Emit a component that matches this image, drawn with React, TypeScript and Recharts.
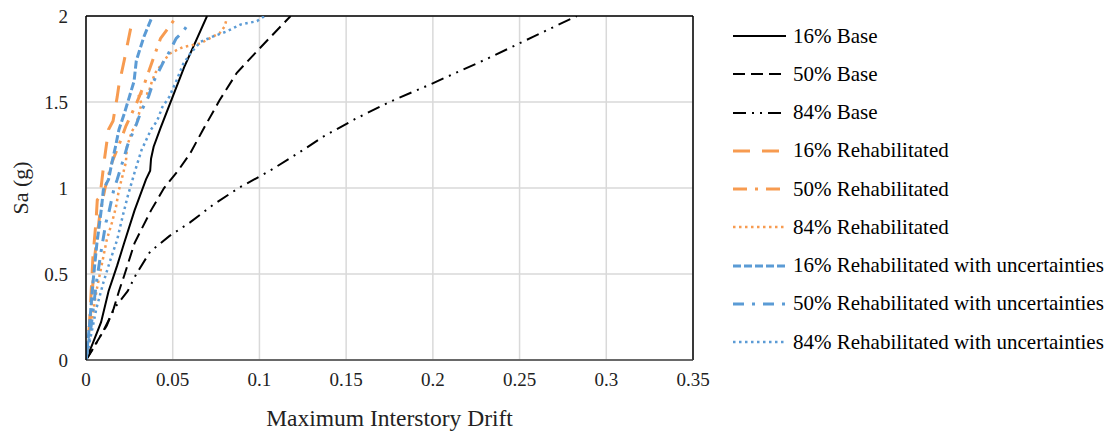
import { LineChart, Line, XAxis, YAxis, CartesianGrid, ReferenceLine } from 'recharts'

// [drift, Sa] pairs
const base16: [number, number][] = [
  [0, 0], [0.004, 0.1], [0.0087, 0.22], [0.013, 0.4], [0.018, 0.55], [0.022, 0.68], [0.028, 0.87],
  [0.0346, 1.05], [0.037, 1.1], [0.0375, 1.17], [0.039, 1.24], [0.043, 1.35], [0.0565, 1.7], [0.0698, 2.0],
]
const base50: [number, number][] = [
  [0, 0], [0.006, 0.1], [0.012, 0.2], [0.016, 0.3], [0.019, 0.4], [0.022, 0.49], [0.028, 0.68],
  [0.0375, 0.87], [0.045, 1.0], [0.053, 1.1], [0.06, 1.2], [0.067, 1.33], [0.077, 1.51], [0.087, 1.67],
  [0.099, 1.8], [0.118, 2.0],
]
const base84: [number, number][] = [
  [0, 0], [0.005, 0.08], [0.01, 0.17], [0.017, 0.31], [0.024, 0.4], [0.029, 0.5], [0.037, 0.63],
  [0.048, 0.72], [0.06, 0.8], [0.073, 0.9], [0.088, 1.0], [0.106, 1.1], [0.125, 1.22], [0.137, 1.3],
  [0.155, 1.4], [0.175, 1.5], [0.198, 1.6], [0.231, 1.75], [0.258, 1.88], [0.283, 2.0],
]
const rehab16: [number, number][] = [
  [0, 0], [0.002, 0.2], [0.003, 0.4], [0.004, 0.6], [0.0058, 0.81], [0.0065, 0.93], [0.008, 0.95],
  [0.009, 1.03], [0.0104, 1.15], [0.013, 1.34], [0.0156, 1.39], [0.018, 1.53], [0.019, 1.6],
  [0.022, 1.74], [0.026, 1.94], [0.027, 1.97],
]
const rehab50: [number, number][] = [
  [0, 0], [0.003, 0.3], [0.005, 0.6], [0.008, 0.85], [0.011, 1.0], [0.015, 1.15], [0.019, 1.25],
  [0.023, 1.36], [0.029, 1.49], [0.0335, 1.6], [0.038, 1.73], [0.043, 1.87], [0.051, 1.98],
]
const rehab84: [number, number][] = [
  [0, 0], [0.003, 0.2], [0.006, 0.4], [0.009, 0.55], [0.012, 0.7], [0.015, 0.8], [0.0173, 0.89],
  [0.019, 0.99], [0.0208, 1.06], [0.023, 1.15], [0.0236, 1.24], [0.0265, 1.33], [0.029, 1.37],
  [0.032, 1.49], [0.03, 1.55], [0.036, 1.55], [0.038, 1.62], [0.04, 1.67], [0.045, 1.74], [0.048, 1.78],
  [0.056, 1.82], [0.066, 1.84], [0.073, 1.88], [0.077, 1.9], [0.08, 1.94], [0.081, 1.98],
]
const unc16: [number, number][] = [
  [0, 0], [0.002, 0.2], [0.004, 0.45], [0.0063, 0.68], [0.0075, 0.77], [0.009, 0.89], [0.01, 0.99],
  [0.013, 1.05], [0.015, 1.15], [0.017, 1.24], [0.019, 1.34], [0.022, 1.43], [0.025, 1.53],
  [0.0277, 1.62], [0.029, 1.74], [0.0334, 1.88], [0.0375, 1.98],
]
const unc50: [number, number][] = [
  [0, 0], [0.003, 0.2], [0.006, 0.45], [0.009, 0.65], [0.0115, 0.8], [0.013, 0.85], [0.016, 0.99],
  [0.018, 1.05], [0.022, 1.18], [0.024, 1.25], [0.029, 1.37], [0.032, 1.45], [0.036, 1.53],
  [0.039, 1.62], [0.045, 1.74], [0.048, 1.79], [0.052, 1.87], [0.056, 1.91], [0.06, 1.97],
]
const unc84: [number, number][] = [
  [0, 0], [0.003, 0.15], [0.006, 0.3], [0.01, 0.45], [0.014, 0.58], [0.018, 0.7], [0.021, 0.83],
  [0.024, 0.95], [0.028, 1.09], [0.032, 1.22], [0.0375, 1.34], [0.041, 1.39], [0.044, 1.47],
  [0.048, 1.53], [0.052, 1.62], [0.056, 1.72], [0.06, 1.78], [0.066, 1.85], [0.073, 1.88],
  [0.081, 1.91], [0.089, 1.95], [0.0986, 1.97], [0.103, 2.0],
]

const xTicks = [0, 0.05, 0.1, 0.15, 0.2, 0.25, 0.3, 0.35]
const yTicks = [0, 0.5, 1, 1.5, 2]

const BLACK = '#000000'
const ORANGE = '#F79B50'
const BLUE = '#5B9BD5'
const FONT = "'Liberation Serif', 'DejaVu Serif', serif"

const series = [
  { name: '16% Base', pts: base16, color: BLACK, width: 2, dash: undefined },
  { name: '50% Base', pts: base50, color: BLACK, width: 2, dash: '12 6' },
  { name: '84% Base', pts: base84, color: BLACK, width: 2, dash: '13 6 2 6 2 6' },
  { name: '16% Rehabilitated', pts: rehab16, color: ORANGE, width: 3, dash: '17 12' },
  { name: '50% Rehabilitated', pts: rehab50, color: ORANGE, width: 3, dash: '14 8 3 8' },
  { name: '84% Rehabilitated', pts: rehab84, color: ORANGE, width: 2.5, dash: '2.5 3.5' },
  { name: '16% Rehabilitated with uncertainties', pts: unc16, color: BLUE, width: 3, dash: '8 3' },
  { name: '50% Rehabilitated with uncertainties', pts: unc50, color: BLUE, width: 3, dash: '11 8 3 8' },
  { name: '84% Rehabilitated with uncertainties', pts: unc84, color: BLUE, width: 2.5, dash: '2.5 3.5' },
]

function LegendBox() {
  return (
    <div style={{ position: 'absolute', left: 733, top: 17, fontFamily: FONT, fontSize: 21, color: '#000' }}>
      {series.map((s) => (
        <div key={s.name} style={{ height: 38.25, display: 'flex', alignItems: 'center', whiteSpace: 'nowrap' }}>
          <svg width={60} height={20} style={{ flex: 'none' }}>
            <line x1={0} y1={10} x2={53} y2={10} stroke={s.color} strokeWidth={s.width} strokeDasharray={s.dash} />
          </svg>
          <span>{s.name}</span>
        </div>
      ))}
    </div>
  )
}

export default function App() {
  return (
    <div style={{ position: 'absolute', left: 0, top: 0, width: 1120, height: 439, background: '#fff', fontFamily: FONT }}>
      <LineChart width={1120} height={439} margin={{ top: 16, right: 427, bottom: 0, left: 0 }} style={{ fontFamily: FONT }}>
        <CartesianGrid stroke="#D9D9D9" strokeWidth={1.5} />
        <XAxis
          type="number"
          dataKey="x"
          domain={[0, 0.35]}
          ticks={xTicks}
          allowDataOverflow
          height={79}
          tickLine={false}
          tickMargin={7}
          axisLine={{ stroke: '#404040', strokeWidth: 1.5 }}
          tick={{ fill: '#222', fontSize: 19, fontFamily: FONT }}
          label={{ value: 'Maximum Interstory Drift', position: 'insideTop', offset: 49, fill: '#222', fontSize: 23.5, fontFamily: FONT }}
        />
        <YAxis
          type="number"
          dataKey="y"
          domain={[0, 2]}
          ticks={yTicks}
          allowDataOverflow
          width={86}
          tickLine={false}
          tickMargin={12}
          axisLine={{ stroke: '#000', strokeWidth: 1.5 }}
          tick={{ fill: '#222', fontSize: 19, fontFamily: FONT }}
          label={{ value: 'Sa (g)', angle: -90, position: 'insideLeft', offset: 20, fill: '#222', fontSize: 22, fontFamily: FONT, style: { textAnchor: 'middle' } }}
        />
        <ReferenceLine y={2} stroke="#000" strokeWidth={1.5} />
        <ReferenceLine x={0.35} stroke="#000" strokeWidth={1.5} />
        {series.map((s) => (
          <Line
            key={s.name}
            name={s.name}
            data={s.pts.map(([x, y]) => ({ x, y }))}
            dataKey="y"
            type="linear"
            stroke={s.color}
            strokeWidth={s.width}
            strokeDasharray={s.dash}
            dot={false}
            activeDot={false}
            isAnimationActive={false}
          />
        ))}
      </LineChart>
      <LegendBox />
    </div>
  )
}
